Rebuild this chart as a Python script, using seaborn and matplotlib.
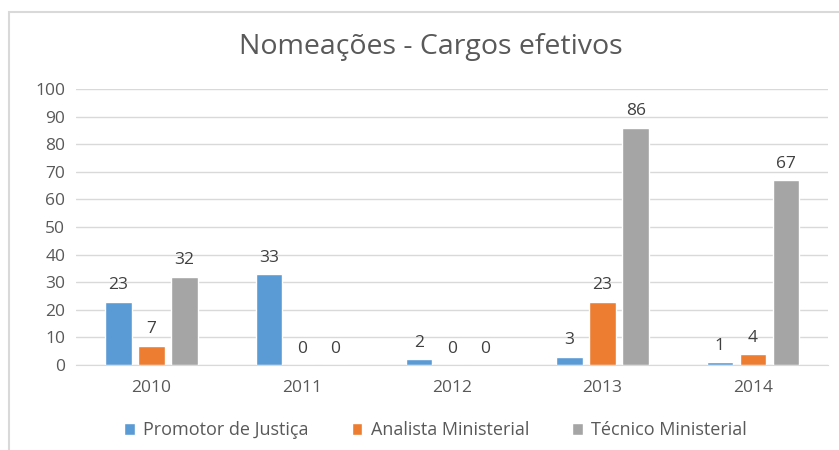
import pandas as pd
import matplotlib.pyplot as plt
import seaborn as sns
from matplotlib.patches import Rectangle

# dados
anos = ["2010", "2011", "2012", "2013", "2014"]
promotor = [23, 33, 2, 3, 1]
analista = [7, 0, 0, 23, 4]
tecnico = [32, 0, 0, 86, 67]
cargos = ["Promotor de Justiça", "Analista Ministerial", "Técnico Ministerial"]
cores = ["#5B9BD5", "#ED7D31", "#A5A5A5"]


def plot_data():
    df = pd.DataFrame({
        "ano": anos * 3,
        "valor": promotor + analista + tecnico,
        "cargo": [c for c in cargos for _ in anos],
    })

    sns.set_style("white")
    plt.rcParams["font.family"] = ["Open Sans", "DejaVu Sans"]

    fig = plt.figure(figsize=(8.39, 4.5), dpi=100)
    ax = fig.add_axes([0.091, 0.189, 0.896, 0.613])

    sns.barplot(data=df, x="ano", y="valor", hue="cargo", palette=cores,
                width=0.66, gap=0.2, ax=ax, legend=True, saturation=1)

    # rótulos de dados
    for cont in ax.containers:
        ax.bar_label(cont, labels=[f"{int(v)}" for v in cont.datavalues],
                     padding=6, fontsize=12.5, color="#404040")

    ax.set_ylim(0, 100)
    ax.set_xlim(-0.5, 4.5)
    ax.set_yticks(range(0, 101, 10))
    ax.yaxis.grid(True, color="#D9D9D9", linewidth=1)
    ax.set_axisbelow(True)
    for s in ["top", "right", "left"]:
        ax.spines[s].set_visible(False)
    ax.spines["bottom"].set_color("#D9D9D9")
    ax.tick_params(axis="both", length=0, labelsize=12.5, labelcolor="#595959")
    ax.tick_params(axis="x", pad=11)
    ax.tick_params(axis="y", pad=8)
    ax.set_xlabel("")
    ax.set_ylabel("")

    fig.text(0.513, 0.895, "Nomeações - Cargos efetivos", ha="center", va="center",
             fontsize=20.5, color="#595959")

    ax.legend(loc="center", bbox_to_anchor=(0.519, 0.044), bbox_transform=fig.transFigure,
              ncol=3, frameon=False, fontsize=13, handlelength=0.6, handleheight=0.6,
              handletextpad=0.45, columnspacing=2.4, labelcolor="#595959")

    # borda do gráfico
    fig.patches.append(Rectangle((0.011, -0.05), 1.2, 1.023, transform=fig.transFigure,
                                 fill=False, edgecolor="#D9D9D9", linewidth=1.5))

    plt.savefig("out.png", dpi=100)


if __name__ == "__main__":
    plot_data()
